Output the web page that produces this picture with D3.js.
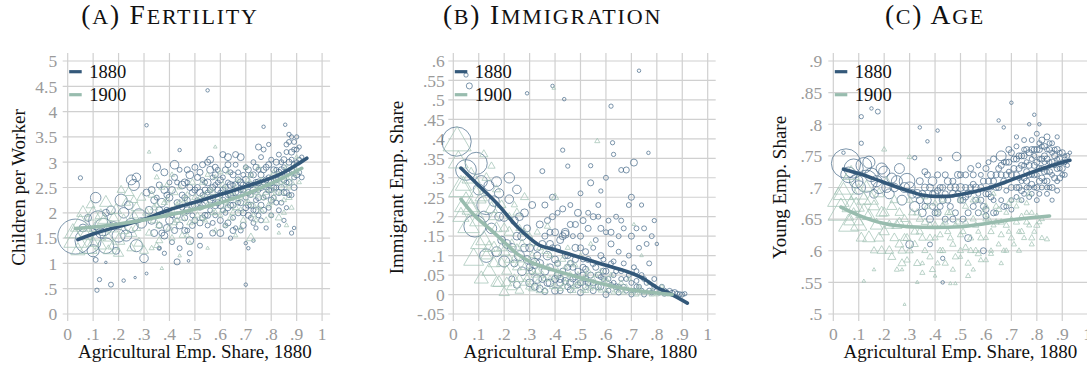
<!DOCTYPE html>
<html>
<head>
<meta charset="utf-8">
<script src="https://cdn.jsdelivr.net/npm/d3@7"></script>
<style>
  html, body { margin: 0; padding: 0; background: #fff; }
  svg { display: block; font-family: "Liberation Serif", "DejaVu Serif", serif; }
</style>
</head>
<body>
<svg id="chart" width="1087" height="368"></svg>
<script>
// ---- shared axis values ----
const xTicks = [0, .1, .2, .3, .4, .5, .6, .7, .8, .9, 1];
const xTitle = "Agricultural Emp. Share, 1880";
const years = ["1880", "1900"];

// ---- panel titles / y axes ----
const panelTitles = ["(a) Fertility", "(b) Immigration", "(c) Age"];
const yTitles = ["Children per Worker", "Immigrant Emp. Share", "Young Emp. Share"];
const yTicksFertility = [0, .5, 1, 1.5, 2, 2.5, 3, 3.5, 4, 4.5, 5];
const yTicksImmigration = [-.05, 0, .05, .1, .15, .2, .25, .3, .35, .4, .45, .5, .55, .6];
const yTicksAge = [.5, .55, .6, .65, .7, .75, .8, .85, .9];

// ---- (a) Fertility: [agri share, children per worker, county weight] ----
const fertility1880 = [
  [.03,1.53,100],[.08,1.45,56],[.12,1.85,30],[.11,2.3,9],[.14,1.72,25],[.15,1.35,20],[.10,1.25,12],[.20,1.55,14],
  [.21,2.25,12],[.25,2.65,8],[.26,2.55,10],[.27,2.7,6],[.17,2.05,6],[.22,2.0,9],[.28,1.95,14],[.25,1.75,16],
  [.27,1.35,12],[.30,1.1,6],[.13,1.6,8],[.18,1.75,5],[.23,1.55,10],[.29,1.8,9],[.24,2.15,6],[.19,1.25,4],
  [.08,1.9,4],[.06,1.7,5],[.15,2.0,4],
  [.55,4.42,1],[.31,3.73,1],[.77,3.7,1],[.855,3.74,1],[.44,3.24,1],[.05,2.69,1.5],[.115,.47,1.5],[.125,.68,1.5],
  [.17,.58,2],[.22,.66,1],[.265,.72,.5],[.31,.8,.7],[.7,.58,1],[.43,1.03,3],[.15,1.02,.5],[.475,1.05,.6],
  [.11,1.07,2],[.36,1.3,.6],
  [.32,2.05,5],[.33,2.45,4],[.35,2.9,5],[.36,2.55,3],[.37,2.2,6],[.38,2.8,4],[.38,1.55,4],[.39,2.05,3],
  [.40,1.85,5],[.41,2.45,4],[.42,2.95,6],[.43,2.2,3],[.44,1.75,4],[.45,2.55,5],[.46,2.3,3],[.47,2.05,4],
  [.48,2.75,5],[.48,1.45,5],[.49,2.4,3],[.50,2.15,4],[.36,1.75,3],[.34,1.6,4],[.39,2.35,3],[.41,1.95,2],
  [.43,2.6,2],[.44,1.3,2],[.46,1.9,3],[.47,2.6,2],[.35,2.3,2],[.37,1.95,2],[.40,2.6,2],[.42,1.65,3],
  [.45,2.1,2],[.49,1.95,2],[.38,1.2,1.5],[.36,1.3,1.5],[.41,1.42,2],[.44,2.85,2],[.47,1.65,2],
  [.51,2.5,3],[.52,2.1,2],[.52,2.8,3],[.53,2.35,2],[.53,1.9,3],[.54,2.6,2],[.54,2.2,4],[.55,3.0,3],
  [.55,1.75,2],[.56,2.45,3],[.56,2.05,2],[.57,2.7,2],[.57,2.3,3],[.58,1.95,2],[.58,2.55,2],[.59,2.2,3],
  [.59,2.85,2],[.60,2.4,2],[.60,1.6,4],[.51,2.25,2],[.53,2.65,2],[.55,2.4,2],[.57,1.8,2],[.59,2.6,2],
  [.52,1.55,2],[.56,3.05,4],[.58,2.9,3],
  [.61,2.25,3],[.61,2.7,2],[.62,2.5,3],[.62,2.0,2],[.63,3.1,4],[.63,2.35,2],[.64,2.8,2],[.64,2.15,3],
  [.65,2.55,2],[.65,1.9,2],[.66,2.4,3],[.66,2.95,2],[.67,2.2,2],[.67,2.65,3],[.68,2.45,2],[.68,3.1,4],
  [.69,2.0,3],[.69,2.75,2],[.70,2.3,2],[.70,2.9,2],[.61,2.05,2],[.63,2.6,2],[.65,2.3,2],[.67,2.8,2],
  [.69,2.45,2],[.62,1.75,2],[.66,1.7,1.5],[.64,1.5,1.5],[.68,1.65,2],[.70,1.4,1],[.71,1.3,1],
  [.71,2.55,2],[.71,2.15,3],[.72,2.75,2],[.72,2.35,2],[.73,3.0,2],[.73,2.05,2],[.74,2.6,3],[.74,2.25,2],
  [.75,2.85,2],[.75,2.45,2],[.76,2.15,3],[.76,3.1,2],[.77,2.6,2],[.77,2.3,2],[.78,2.9,3],[.78,2.5,2],
  [.79,2.7,2],[.79,2.1,2],[.80,3.05,2],[.80,2.45,2],[.72,1.9,2],[.74,1.7,1.5],[.76,1.85,2],[.78,1.7,1.5],
  [.80,1.95,2],[.77,3.25,2],[.75,3.3,3],[.79,3.35,1.5],[.73,1.45,1],
  [.81,2.65,2],[.81,2.3,2],[.82,2.85,2],[.82,2.5,2],[.83,3.15,2],[.83,2.05,2],[.84,2.7,2],[.84,3.0,2],
  [.85,2.4,3],[.85,2.9,2],[.86,3.2,2],[.86,2.6,2],[.87,2.8,2],[.87,3.4,2],[.88,3.05,2],[.88,2.35,2],
  [.89,3.25,2],[.89,2.7,2],[.90,3.0,2],[.90,3.5,1.5],[.91,2.8,2],[.91,3.3,1.5],[.92,3.1,1.5],[.82,2.2,2],
  [.84,2.2,2],[.86,2.1,1.5],[.88,1.6,1.5],[.89,1.7,1],[.85,1.85,1.5],[.83,1.75,1],[.87,3.55,1.5],[.88,3.5,1.5],
  [.92,2.7,2],[.87,2.35,2],
  [.45,2.35,3],[.46,2.6,4],[.47,2.25,3],[.48,2.5,3],[.49,2.15,4],[.5,2.45,3],[.5,1.85,3],[.51,2.7,3],
  [.52,2.4,4],[.53,2.15,3],[.54,2.45,3],[.54,1.95,3],[.55,2.6,4],[.56,2.25,3],[.57,2.5,3],[.58,2.15,4],
  [.58,2.75,3],[.59,2.45,3],[.6,2.15,4],[.6,2.65,3],[.61,2.45,3],[.62,2.3,4],[.62,2.85,3],[.63,2.1,3],
  [.64,2.55,4],[.64,2.35,3],[.65,2.75,3],[.65,2.15,3],[.66,2.55,4],[.67,2.4,3],[.67,2.0,3],[.68,2.6,4],
  [.68,2.2,3],[.69,2.55,3],[.7,2.1,3],[.7,2.65,4],[.71,2.4,3],[.71,2.85,3],[.72,2.55,3],[.72,2.15,3],
  [.73,2.45,4],[.73,2.75,3],[.74,2.9,3],[.74,2.05,3],[.75,2.6,4],[.75,2.3,3],[.76,2.5,3],[.76,2.75,3],
  [.77,2.85,3],[.77,2.05,3],[.78,2.35,4],[.78,2.65,3],[.79,2.95,3],[.79,2.45,3],[.8,2.6,4],[.8,2.25,3],
  [.81,2.85,3],[.81,2.5,3],[.82,2.65,3],[.82,3.0,3],[.83,2.4,3],[.83,2.8,3],[.84,2.5,3],[.84,2.85,3],
  [.85,2.65,3],[.85,3.05,3],[.86,2.4,3],[.86,2.8,3],[.87,3.0,3],[.87,2.6,3],[.88,2.85,3],[.88,3.2,3],
  [.89,2.5,3],[.89,2.95,3],[.9,2.75,3],[.9,3.25,2],[.91,3.05,2],[.86,3.35,2],[.89,3.4,2],[.63,2.95,3],
  [.66,3.15,3],[.61,3.15,3],[.53,2.95,3],[.56,2.85,4],[.5,2.9,3],[.47,2.85,3],[.42,2.7,3],[.4,2.3,4],
  [.38,2.45,4],[.36,2.05,4],[.34,2.25,4],[.33,1.85,5],[.31,2.4,4],[.37,1.6,3],[.39,1.7,4],[.43,1.95,4],
  [.46,1.65,3],[.49,1.75,3],[.52,1.8,3],[.55,1.95,3],[.57,1.6,3],[.6,1.85,3],[.63,1.8,3],[.65,1.65,3],
  [.69,1.75,3],[.71,1.95,3],[.73,1.8,2],[.75,1.95,2],[.48,1.2,2],[.52,1.35,2]
];
const fertility1900 = [
  [.03,1.45,40],[.05,1.75,30],[.08,1.3,25],[.1,1.95,20],[.12,1.55,18],[.15,2.2,12],[.17,1.7,14],[.19,2.05,10],
  [.2,1.45,12],[.22,1.85,10],[.24,2.4,8],[.25,1.6,10],[.27,2.1,8],[.28,1.4,8],[.29,2.3,6],[.1,1.4,10],
  [.06,2.0,12],[.14,1.85,8],[.18,1.35,10],[.23,2.2,6],[.26,1.95,6],[.3,1.25,6],[.02,1.6,20],[.13,1.95,10],
  [.16,1.5,8],
  [.31,2.0,5],[.32,1.6,4],[.33,2.35,4],[.34,1.85,5],[.35,2.15,3],[.36,1.45,4],[.37,2.5,3],[.38,1.95,4],
  [.39,2.25,3],[.40,1.7,4],[.41,2.05,3],[.42,2.4,4],[.43,1.85,3],[.44,2.2,3],[.45,1.55,3],[.46,2.0,3],
  [.47,2.35,3],[.48,1.8,3],[.49,2.6,3],[.50,2.1,3],[.35,2.7,2],[.41,2.75,2],[.33,1.3,2],[.37,.9,1],
  [.44,1.15,1],[.48,1.4,1.5],[.32,3.2,1],
  [.51,1.95,3],[.52,2.3,2],[.53,2.6,3],[.54,1.85,2],[.55,2.15,3],[.56,2.45,2],[.57,2.0,3],[.58,2.7,2],
  [.59,2.3,3],[.60,1.95,2],[.61,2.55,3],[.62,2.2,2],[.63,2.8,2],[.64,1.9,3],[.65,2.4,2],[.66,2.1,3],
  [.67,2.65,2],[.68,2.3,2],[.69,1.85,3],[.70,2.5,2],[.71,2.2,3],[.72,2.75,2],[.73,1.95,2],[.74,2.4,3],
  [.75,2.1,2],[.76,2.65,2],[.77,2.3,3],[.78,1.85,3],[.79,2.55,2],[.80,2.2,2],[.81,2.8,2],[.82,2.4,3],
  [.83,1.9,4],[.84,2.6,2],[.85,2.25,2],[.86,2.9,2],[.87,2.5,2],[.88,2.1,2],[.89,2.75,2],[.90,3.1,1.5],
  [.91,2.6,1.5],[.58,3.3,1],[.72,1.5,6],[.83,1.6,1],[.86,1.75,1.5],[.66,1.55,1.5],[.55,1.3,1],[.6,2.8,2],
  [.7,2.9,2],[.75,2.9,2],
  [.32,1.9,4],[.34,2.1,4],[.36,1.75,4],[.38,2.2,3],[.4,2.0,4],[.42,1.8,3],[.43,2.15,3],[.45,1.9,4],
  [.46,2.25,3],[.48,2.05,3],[.5,1.85,3],[.5,2.3,3],[.52,2.1,3],[.53,1.9,3],[.54,2.35,3],[.56,2.15,3],
  [.57,2.4,3],[.58,2.0,3],[.6,2.25,3],[.61,2.05,3],[.62,2.45,3],[.63,2.15,3],[.64,2.35,3],[.65,2.0,3],
  [.66,2.5,3],[.67,2.25,3],[.68,2.05,3],[.69,2.45,3],[.7,2.2,3],[.71,2.65,3],[.72,2.35,3],[.73,2.15,3],
  [.74,2.55,3],[.75,2.35,3],[.76,2.05,3],[.77,2.6,3],[.78,2.4,3],[.79,2.15,3],[.8,2.7,3],[.8,2.45,3],
  [.81,2.3,3],[.82,2.6,3],[.83,2.75,3],[.84,2.4,3],[.85,2.55,3],[.86,2.7,3],[.87,2.3,3],[.88,2.6,3],
  [.89,2.9,3],[.9,2.8,2],[.55,2.75,2],[.47,1.55,2],[.58,1.65,2],[.62,1.75,2],[.68,1.7,2],[.74,1.85,2],
  [.8,1.95,2],[.85,2.0,2],[.35,1.35,3],[.41,1.5,3],[.39,2.55,2],[.44,2.5,2],[.2,1.2,8],[.25,1.3,6],
  [.07,1.55,15],[.11,1.7,12],[.04,1.25,15],[.16,1.25,8],[.22,1.65,8],[.27,1.7,6],[.18,1.9,8],[.13,1.35,10],
  [.09,2.15,6],[.21,2.45,5],[.26,2.25,5]
];
const fertilityFit1880 = [[.04,1.47],[.1,1.58],[.2,1.73],[.3,1.87],[.35,1.97],[.4,2.06],[.5,2.21],[.6,2.36],
  [.7,2.52],[.8,2.69],[.85,2.8],[.9,2.95],[.94,3.08]];
const fertilityFit1900 = [[.03,1.69],[.1,1.72],[.2,1.78],[.3,1.86],[.4,1.96],[.5,2.07],[.6,2.2],[.7,2.37],
  [.8,2.58],[.85,2.7],[.92,2.88]];

// ---- (b) Immigration ----
const immigration1880 = [
  [.013,.393,70],[.05,.32,35],[.09,.337,40],[.085,.176,40],[.13,.23,30],[.13,.1,15],[.11,.29,12],[.1,.27,10],
  [.14,.28,8],[.16,.24,9],[.12,.2,10],[.18,.2,6],[.19,.14,5],[.2,.085,10],[.17,.11,8],[.22,.3,9],
  [.22,.245,6],[.24,.19,5],[.25,.15,5],[.26,.1,8],[.27,.06,6],[.28,.21,5],[.29,.17,4],[.3,.12,5],
  [.31,.23,4],[.32,.08,8],[.33,.04,6],[.34,.18,4],[.35,.317,2],[.35,.13,4],[.36,.06,5],[.37,.1,6],
  [.38,.16,3],[.38,.03,5],[.39,.2,3],[.4,.09,4],[.41,.05,4],[.42,.14,4],[.43,.22,3],[.43,.371,1.5],
  [.44,.16,5],[.44,.035,4],[.45,.33,1.5],[.45,.1,3],[.46,.18,3],[.47,.07,3],[.48,.12,4],[.49,.21,4],
  [.49,.025,3],[.5,.15,3],[.51,.05,3],[.52,.11,3],[.53,.17,3],[.54,.287,3],[.54,.331,1.5],[.55,.08,3],
  [.56,.14,2],[.57,.02,3],[.57,.2,2],[.58,.266,1.5],[.58,.1,3],[.59,.06,3],[.6,.3,2],[.6,.16,2],
  [.61,.04,2],[.62,.13,3],[.62,.484,1.5],[.626,.39,1.5],[.63,.36,1.5],[.63,.085,2],[.64,.2,2],[.64,.02,3],
  [.65,.11,2],[.66,.32,2],[.66,.06,2],[.67,.17,2],[.68,.32,3],[.68,.04,2],[.69,.23,2],[.69,.1,2],
  [.7,.25,3],[.7,.15,3],[.71,.339,4],[.71,.07,2],[.72,.02,2],[.73,.575,1],[.73,.12,2],[.74,.05,2],
  [.75,.17,2],[.76,.03,2],[.767,.364,1],[.77,.08,2],[.78,.15,2],[.79,.04,2],[.8,.13,1],[.8,.01,2],
  [.82,.02,2],[.84,.005,2],[.86,.003,3],[.88,.002,2],[.9,0,2],[.05,.564,1.5],[.063,.536,3],[.29,.517,1],
  [.39,.536,1],[.436,.502,1],[.23,.04,3],[.25,.025,4],[.3,.03,5],[.34,.015,4],[.4,.01,4],[.46,.012,3],
  [.5,.005,3],[.53,.03,3],[.55,.01,3],[.6,0,3],[.65,.005,2],[.7,0,2],[.75,0,2],[.78,.005,2],
  [.83,.01,2],[.42,.01,3],[.36,.008,3],[.48,.045,3],[.52,.065,3],[.58,.045,2],[.62,.025,2],[.67,.02,2],
  [.72,.035,2],[.31,.06,4],[.28,.12,5],[.26,.2,5],[.24,.08,4],[.21,.13,6],[.33,.1,4],[.37,.19,3],
  [.41,.12,3],[.45,.07,3],[.47,.15,2],[.51,.09,2],[.55,.12,2],[.59,.09,2],[.63,.05,2],[.65,.15,2],
  [.36,.23,3],[.39,.25,3],[.41,.21,2],[.46,.23,2],[.5,.26,2],[.53,.21,2],[.57,.23,2],[.61,.19,2],
  [.3,.07,4],[.32,.02,4],[.33,.12,4],[.35,.04,4],[.36,.15,3],[.37,.03,4],[.38,.07,4],[.39,.12,3],
  [.4,.04,4],[.41,.08,3],[.42,.03,4],[.43,.06,3],[.44,.1,3],[.45,.02,3],[.46,.08,3],[.47,.04,3],
  [.48,.09,3],[.49,.06,3],[.5,.03,3],[.5,.12,3],[.51,.07,3],[.52,.02,3],[.53,.09,3],[.54,.05,3],
  [.55,.03,3],[.56,.07,3],[.57,.05,3],[.58,.02,3],[.59,.04,2],[.6,.06,3],[.61,.01,2],[.62,.08,2],
  [.63,.03,2],[.64,.06,2],[.65,.02,2],[.66,.04,2],[.67,.08,2],[.68,.01,2],[.69,.05,2],[.7,.03,2],
  [.71,.01,2],[.72,.06,2],[.73,.02,2],[.74,.01,2],[.75,.04,2],[.77,.01,2],[.79,.02,2],[.81,.005,2],
  [.83,.002,2],[.85,.008,3],[.87,.005,3],[.89,.001,2],[.91,.002,1.5],[.43,.15,4],[.44,.155,5],[.48,.18,3],
  [.51,.19,3],[.55,.2,3],[.58,.17,3],[.62,.16,3],[.66,.19,2],[.72,.17,2],[.76,.13,2],[.79,.19,1.5],
  [.74,.23,1.5],[.4,.16,4],[.38,.13,4],[.34,.08,5],[.29,.09,5],[.27,.15,6],[.23,.12,6],[.2,.2,7],
  [.18,.26,7],[.15,.17,9],[.17,.29,8],[.25,.27,6],[.42,.04,4],[.46,.03,4],[.52,.04,3]
];
const immigration1900 = [
  [.015,.39,60],[.03,.27,45],[.05,.23,40],[.02,.34,30],[.07,.3,25],[.09,.25,30],[.06,.175,35],[.1,.19,25],
  [.12,.36,5],[.15,.33,4],[.08,.09,30],[.12,.14,20],[.14,.06,15],[.15,.22,12],[.17,.17,10],[.18,.03,12],
  [.2,.11,10],[.21,.06,8],[.22,.16,8],[.23,.02,8],[.24,.09,6],[.25,.21,5],[.26,.04,6],[.27,.13,5],
  [.28,.25,5],[.28,.07,5],[.3,.02,5],[.31,.1,4],[.32,.05,4],[.33,.16,3],[.34,.01,4],[.35,.07,3],
  [.36,.04,3],[.37,.175,3],[.38,.1,3],[.39,.02,3],[.395,.53,1],[.4,.25,4],[.41,.06,3],[.42,.015,3],
  [.43,.09,3],[.44,.03,3],[.45,.12,2],[.46,.05,3],[.47,.01,3],[.48,.075,2],[.49,.03,2],[.5,.1,2],
  [.51,.01,2],[.52,.05,2],[.53,.025,2],[.54,.13,1.5],[.55,.04,2],[.566,.394,2],[.57,.015,2],[.58,.06,2],
  [.6,.01,2],[.61,.03,2],[.63,.005,2],[.65,.02,2],[.67,.005,2],[.7,.01,2],[.71,.18,1],[.72,0,2],
  [.74,.1,1],[.76,.005,2],[.78,.01,1.5],[.8,0,1.5],[.83,0,1.5],[.85,0,2],[.11,.04,15],[.13,.1,10],
  [.16,.12,10],[.19,.08,8],[.2,.005,8],[.25,.12,4],[.29,.04,5],[.33,.06,4],[.36,.11,3],[.4,.045,3],
  [.44,.07,2],[.47,.02,2],[.51,.04,2],[.54,.015,2],[.59,.035,2],[.62,.05,2],[.66,.03,2],[.69,.04,1.5],
  [.73,.02,1.5],[.77,.03,1.5],[.82,.02,1.5],[.04,.28,20],[.13,.3,6],[.17,.27,5],[.22,.2,4],[.26,.17,4],
  [.3,.15,3],[.34,.12,3],[.24,.23,3],
  [.14,.12,12],[.16,.08,10],[.17,.03,10],[.19,.12,8],[.21,.03,8],[.22,.09,7],[.24,.04,6],[.25,.07,6],
  [.26,.01,6],[.27,.09,5],[.28,.03,5],[.3,.06,5],[.31,.015,4],[.32,.08,4],[.33,.03,4],[.35,.05,4],
  [.36,.01,3],[.37,.07,3],[.38,.04,3],[.4,.02,3],[.41,.08,3],[.42,.05,3],[.43,.02,3],[.45,.04,3],
  [.46,.08,3],[.48,.02,3],[.49,.05,3],[.5,.03,3],[.52,.01,3],[.53,.06,3],[.55,.02,3],[.56,.05,2],
  [.58,.01,2],[.6,.04,2],[.62,.02,2],[.64,.01,2],[.66,.01,2],[.68,.02,2],[.7,.005,2],[.74,.005,2],
  [.78,0,2],[.81,.005,2],[.1,.13,20],[.07,.22,25],[.11,.25,12],[.03,.2,20],[.16,.2,8],[.2,.17,7],
  [.23,.13,6],[.19,.23,6],[.28,.16,4],[.31,.13,3]
];
const immigrationFit1880 = [[.03,.325],[.1,.28],[.17,.235],[.25,.175],[.3,.145],[.33,.13],[.4,.115],[.5,.095],
  [.6,.075],[.7,.055],[.75,.04],[.8,.018],[.85,.003],[.92,-.022]];
const immigrationFit1900 = [[.03,.245],[.08,.205],[.15,.165],[.2,.135],[.25,.105],[.3,.085],[.4,.062],[.5,.043],
  [.6,.025],[.7,.012],[.8,.004],[.86,0]];

// ---- (c) Age ----
const age1880 = [
  [.05,.738,70],[.08,.73,30],[.13,.71,40],[.12,.735,20],[.1,.7,15],[.15,.72,15],[.18,.7,12],[.2,.725,10],
  [.22,.69,8],[.25,.71,10],[.27,.68,8],[.29,.71,20],[.3,.7,10],[.32,.67,8],[.24,.7,6],[.16,.69,6],
  [.11,.812,1.5],[.175,.82,2],[.15,.825,1],[.11,.77,1.5],[.04,.755,1],[.34,.795,1],[.37,.773,1],[.41,.79,1],
  [.42,.745,1],[.32,.747,1.5],[.485,.749,6],[.39,.71,6],[.33,.69,6],[.35,.66,5],[.36,.7,4],[.37,.68,5],
  [.38,.65,4],[.39,.67,3],[.4,.69,5],[.41,.66,4],[.42,.7,3],[.43,.68,4],[.44,.65,3],[.45,.71,4],
  [.46,.67,3],[.47,.69,4],[.48,.66,3],[.49,.72,4],[.5,.68,3],[.5,.7,5],[.51,.65,3],[.52,.72,3],
  [.53,.69,4],[.54,.73,3],[.55,.67,3],[.56,.7,4],[.57,.735,2],[.58,.68,3],[.59,.71,3],[.6,.73,3],
  [.6,.665,3],[.61,.69,3],[.62,.72,4],[.63,.745,3],[.63,.68,2],[.64,.7,3],[.65,.73,3],[.66,.75,8],
  [.66,.68,2],[.67,.71,3],[.68,.74,3],[.68,.695,2],[.69,.76,3],[.7,.72,3],[.7,.68,2],[.71,.745,3],
  [.72,.7,3],[.72,.765,2],[.73,.73,3],[.74,.71,2],[.74,.75,3],[.75,.69,2],[.75,.76,2],[.76,.725,3],
  [.76,.74,2],[.77,.7,2],[.77,.755,3],[.78,.72,2],[.78,.745,2],[.79,.735,3],[.79,.7,2],[.8,.76,3],
  [.8,.72,2],[.81,.745,2],[.81,.69,2],[.82,.73,3],[.82,.765,2],[.83,.71,2],[.83,.75,3],[.84,.725,2],
  [.84,.76,2],[.85,.74,2],[.85,.7,2],[.86,.755,2],[.86,.72,2],[.87,.735,2],[.87,.76,2],[.88,.745,2],
  [.88,.71,2],[.89,.73,2],[.89,.755,2],[.9,.74,2],[.9,.72,2],[.91,.75,1.5],[.92,.735,1.5],[.93,.755,1],
  [.7,.834,1],[.65,.806,1],[.67,.795,1],[.77,.8,1],[.81,.8,1],[.79,.815,1],[.88,.78,1.5],[.72,.78,1.5],
  [.3,.61,5],[.43,.588,1.5],[.43,.55,1],[.53,.62,4],[.59,.6,3],[.38,.61,2],[.74,.68,2],[.78,.69,2],
  [.8,.68,2],[.82,.7,2],[.7,.7,3],[.66,.72,3],[.62,.7,2],[.58,.72,2],[.55,.705,3],[.52,.685,3],
  [.47,.71,3],[.44,.69,3],[.41,.72,3],[.36,.725,3],[.34,.68,4],[.64,.66,2],[.68,.67,2],[.72,.685,2],
  [.76,.7,2],[.84,.7,2],[.86,.68,1.5],[.79,.75,2],[.83,.74,2],[.85,.77,2],[.81,.77,2],[.75,.735,2],
  [.73,.715,2],[.69,.725,2],[.67,.74,2],[.61,.74,2],[.57,.69,2],
  [.7,.755,3],[.71,.73,3],[.72,.72,3],[.73,.75,3],[.73,.7,3],[.74,.735,3],[.75,.715,3],[.75,.75,3],
  [.76,.76,3],[.76,.71,3],[.77,.735,3],[.77,.72,3],[.78,.76,3],[.78,.705,3],[.79,.72,3],[.79,.76,3],
  [.8,.74,3],[.8,.7,3],[.81,.73,3],[.81,.76,3],[.82,.715,3],[.82,.745,3],[.83,.725,3],[.83,.765,3],
  [.84,.745,3],[.84,.71,3],[.85,.725,3],[.85,.76,3],[.86,.74,3],[.86,.7,3],[.87,.715,3],[.87,.75,3],
  [.88,.73,3],[.88,.76,3],[.89,.715,3],[.89,.745,3],[.9,.755,3],[.9,.73,3],[.91,.74,2],[.91,.72,2],
  [.92,.75,2],[.82,.775,3],[.84,.78,3],[.8,.785,2],[.86,.77,2],[.78,.775,2],[.75,.775,2],[.72,.745,3],
  [.69,.74,3],[.68,.72,3],[.66,.735,3],[.65,.7,3],[.64,.72,3],[.63,.71,3],[.62,.685,3],[.61,.71,3],
  [.6,.69,3],[.59,.67,3],[.58,.7,3],[.57,.66,3],[.56,.68,3],[.55,.72,3],[.54,.7,3],[.53,.66,3],
  [.52,.7,3],[.51,.68,3],[.5,.72,3],[.49,.69,3],[.48,.7,4],[.47,.65,3],[.46,.7,3],[.45,.68,3],
  [.44,.72,3],[.43,.7,3],[.42,.67,3],[.41,.695,3],[.4,.66,3],[.39,.69,3],[.38,.7,4],[.37,.72,3],
  [.36,.67,3],[.35,.69,4],[.34,.71,4],[.31,.69,6],[.28,.7,8],[.26,.73,8],[.23,.715,8],[.21,.7,8],
  [.19,.73,10],[.14,.74,12],[.09,.71,15],[.06,.72,20],[.17,.71,10],[.6,.655,3],[.63,.66,3],[.67,.67,3],
  [.7,.665,2],[.74,.695,3],[.77,.685,2],[.81,.71,3],[.84,.69,2],[.88,.695,2]
];
const age1900 = [
  [.03,.66,50],[.05,.7,40],[.02,.68,35],[.08,.65,30],[.1,.69,25],[.07,.72,20],[.12,.66,20],[.14,.62,12],
  [.15,.68,15],[.17,.64,12],[.19,.66,10],[.2,.63,8],[.22,.6,6],[.23,.67,8],[.25,.64,8],[.26,.61,6],
  [.27,.58,5],[.28,.65,5],[.29,.62,5],[.3,.6,4],[.31,.66,4],[.32,.63,5],[.33,.58,4],[.34,.65,4],
  [.35,.62,4],[.36,.6,3],[.37,.67,3],[.38,.64,4],[.39,.57,3],[.4,.62,3],[.41,.66,3],[.42,.6,3],
  [.43,.64,3],[.44,.58,3],[.45,.63,3],[.46,.66,3],[.47,.61,3],[.48,.59,3],[.49,.645,3],[.5,.6,3],
  [.51,.63,3],[.52,.67,3],[.53,.58,3],[.54,.62,3],[.55,.65,3],[.56,.6,3],[.57,.63,2],[.58,.585,2],
  [.59,.66,3],[.6,.62,2],[.61,.65,3],[.62,.6,2],[.63,.64,2],[.64,.67,3],[.65,.61,2],[.66,.645,3],
  [.67,.6,2],[.68,.66,2],[.69,.63,2],[.7,.65,2],[.71,.61,2],[.72,.67,2],[.73,.63,2],[.74,.655,2],
  [.75,.62,2],[.76,.675,2],[.77,.64,2],[.78,.66,2],[.79,.63,2],[.8,.655,2],[.82,.62,2],[.84,.618,2],
  [.2,.76,2],[.3,.748,2],[.27,.57,1],[.16,.57,1],[.12,.552,1],[.28,.515,.7],[.46,.548,1],[.48,.548,1],
  [.5,.59,1.5],[.55,.57,1.5],[.6,.585,2],[.66,.58,1.5],[.33,.55,1],[.35,.58,1.5],[.4,.56,1],[.06,.64,30],
  [.09,.67,20],[.13,.7,12],[.18,.69,8],[.24,.68,6],[.36,.685,3],[.43,.68,3],[.5,.68,3],[.57,.68,2],
  [.63,.69,2],[.7,.68,2],[.76,.66,2],[.81,.645,2],[.3,.68,4],[.21,.71,5],[.11,.62,8],[.26,.66,6],
  [.04,.69,30],[.07,.67,25],[.1,.64,20],[.12,.68,15],[.14,.655,12],[.16,.67,10],[.18,.62,8],[.2,.66,8],
  [.22,.64,7],[.24,.62,6],[.26,.645,6],[.28,.62,5],[.3,.64,5],[.32,.61,4],[.34,.63,4],[.36,.645,4],
  [.38,.62,4],[.4,.64,4],[.42,.625,3],[.44,.645,3],[.46,.62,3],[.48,.64,3],[.5,.625,3],[.52,.645,3],
  [.54,.6,3],[.56,.64,3],[.58,.62,3],[.6,.65,3],[.62,.63,3],[.64,.645,3],[.66,.625,3],[.68,.64,3],
  [.7,.62,3],[.72,.645,3],[.74,.63,3],[.76,.645,3],[.78,.62,3],[.8,.64,3],[.82,.65,2],[.65,.665,3],
  [.69,.675,3],[.73,.68,3],[.77,.69,3],[.6,.67,3],[.55,.68,3],[.45,.66,3],[.4,.675,3],[.33,.66,4],
  [.27,.6,5],[.23,.59,5],[.19,.6,6],[.38,.59,3],[.43,.6,3],[.52,.605,3],[.57,.595,3],[.62,.595,2],
  [.68,.6,2],[.73,.6,2],[.78,.61,2],[.35,.565,2],[.41,.58,2],[.47,.57,2],[.53,.56,2],[.29,.585,3],
  [.25,.57,2],[.16,.6,4]
];
const ageFit1880 = [[.04,.729],[.1,.722],[.2,.708],[.3,.694],[.35,.688],[.4,.686],[.45,.686],[.5,.689],
  [.6,.698],[.7,.712],[.8,.727],[.87,.736],[.93,.743]];
const ageFit1900 = [[.03,.669],[.1,.656],[.2,.643],[.3,.638],[.4,.637],[.5,.638],[.6,.643],[.7,.649],
  [.8,.653],[.85,.655]];

// ---- styling ----
const col1880 = "#34597a";
const col1900 = "#98bcae";
const mark1880 = "#4a6d8c";
const mark1900 = "#a0c2b4";
const gridCol = "#d0d0d0";
const tickCol = "#9a9a9a";

const panels = [
  { title: panelTitles[0], yTitle: yTitles[0], yTicks: yTicksFertility,
    pts80: fertility1880, pts00: fertility1900, fit80: fertilityFit1880, fit00: fertilityFit1900,
    x0: 67.7, titleX: 170, yTitleX: 25, labelGap: 10.5 },
  { title: panelTitles[1], yTitle: yTitles[1], yTicks: yTicksImmigration,
    pts80: immigration1880, pts00: immigration1900, fit80: immigrationFit1880, fit00: immigrationFit1900,
    x0: 453.3, titleX: 552.5, yTitleX: 403, labelGap: 8.5 },
  { title: panelTitles[2], yTitle: yTitles[2], yTicks: yTicksAge,
    pts80: age1880, pts00: age1900, fit80: ageFit1880, fit00: ageFit1900,
    x0: 833.3, titleX: 935, yTitleX: 786, labelGap: 11 }
];

const svg = d3.select("#chart");
const plotW = 254.4, yTopPx = 61, yBotPx = 314;
const fmt = d => d === 0 ? "0" : String(+d.toFixed(2)).replace(/^(-?)0\./, "$1.");
const rScale = d3.scaleSqrt().domain([0, 100]).range([0, 17.5]);
const tri = r => { const R = r * 1.2; return `M0,${-R}L${R * .866},${R * .5}L${-R * .866},${R * .5}Z`; };

// small-caps title: lowercase letters are set as smaller capitals
function smallCaps(textSel, str, big, small) {
  [...str].forEach(ch => {
    const lower = ch !== ch.toUpperCase();
    textSel.append("tspan").attr("font-size", lower ? small : big).text(lower ? ch.toUpperCase() : ch);
  });
}

panels.forEach(p => {
  const x = d3.scaleLinear().domain([0, 1]).range([p.x0, p.x0 + plotW]);
  const y = d3.scaleLinear().domain(d3.extent(p.yTicks)).range([yBotPx, yTopPx]);
  const g = svg.append("g");

  // grid lines with their outward tick extensions
  const gx0 = x(0) - 5, gx1 = x(1) + 8, gy0 = y.range()[1] - 8, gy1 = y.range()[0] + 7;
  g.selectAll(".hg").data(p.yTicks).join("line")
    .attr("x1", gx0).attr("x2", gx1).attr("y1", d => y(d)).attr("y2", d => y(d))
    .attr("stroke", gridCol).attr("stroke-width", 1.2);
  g.selectAll(".vg").data(xTicks).join("line")
    .attr("y1", gy0).attr("y2", gy1).attr("x1", d => x(d)).attr("x2", d => x(d))
    .attr("stroke", gridCol).attr("stroke-width", 1.2);

  // tick labels
  g.selectAll(".yl").data(p.yTicks).join("text")
    .attr("x", x(0) - p.labelGap).attr("y", d => y(d)).attr("dy", "0.36em")
    .attr("text-anchor", "end").attr("font-size", 17.5).attr("fill", tickCol).text(fmt);
  g.selectAll(".xl").data(xTicks).join("text")
    .attr("x", d => x(d)).attr("y", 339.5)
    .attr("text-anchor", "middle").attr("font-size", 17.5).attr("fill", tickCol).text(fmt);

  // axis titles
  g.append("text").attr("x", x(.5)).attr("y", 358).attr("text-anchor", "middle")
    .attr("font-size", 19).attr("fill", "#111").text(xTitle);
  g.append("text").attr("transform", `translate(${p.yTitleX},${(yTopPx + yBotPx) / 2}) rotate(-90)`)
    .attr("text-anchor", "middle").attr("font-size", 19).attr("fill", "#111").text(p.yTitle);

  // panel title
  const t = g.append("text").attr("x", p.titleX).attr("y", 23.5).attr("text-anchor", "middle")
    .attr("letter-spacing", 1.8).attr("fill", "#111");
  smallCaps(t, p.title, 27.5, 22);

  // 1880 counties: hollow circles sized by weight
  g.append("g").selectAll("circle").data(p.pts80).join("circle")
    .attr("cx", d => x(d[0])).attr("cy", d => y(d[1])).attr("r", d => rScale(d[2]))
    .attr("fill", "none").attr("stroke", mark1880).attr("stroke-width", 0.9).attr("stroke-opacity", 0.8);

  // 1900 counties: hollow triangles
  g.append("g").selectAll("path").data(p.pts00).join("path")
    .attr("transform", d => `translate(${x(d[0])},${y(d[1])})`).attr("d", d => tri(rScale(d[2])))
    .attr("fill", "none").attr("stroke", mark1900).attr("stroke-width", 0.9).attr("stroke-opacity", 0.8);

  // smoothed fits
  const line = d3.line().x(d => x(d[0])).y(d => y(d[1])).curve(d3.curveMonotoneX);
  g.append("path").datum(p.fit80).attr("d", line).attr("fill", "none")
    .attr("stroke", col1880).attr("stroke-width", 3.6).attr("stroke-linecap", "round");
  g.append("path").datum(p.fit00).attr("d", line).attr("fill", "none")
    .attr("stroke", col1900).attr("stroke-width", 3.6).attr("stroke-linecap", "round");

  // legend
  const lx = x(0) + 1.5;
  [col1880, col1900].forEach((c, i) => {
    const ly = 71.7 + i * 23;
    g.append("line").attr("x1", lx).attr("x2", lx + 12.5).attr("y1", ly).attr("y2", ly)
      .attr("stroke", c).attr("stroke-width", 3.2);
    g.append("text").attr("x", lx + 20).attr("y", ly).attr("dy", "0.36em")
      .attr("font-size", 18.5).attr("fill", "#111").text(years[i]);
  });
});
</script>
</body>
</html>
